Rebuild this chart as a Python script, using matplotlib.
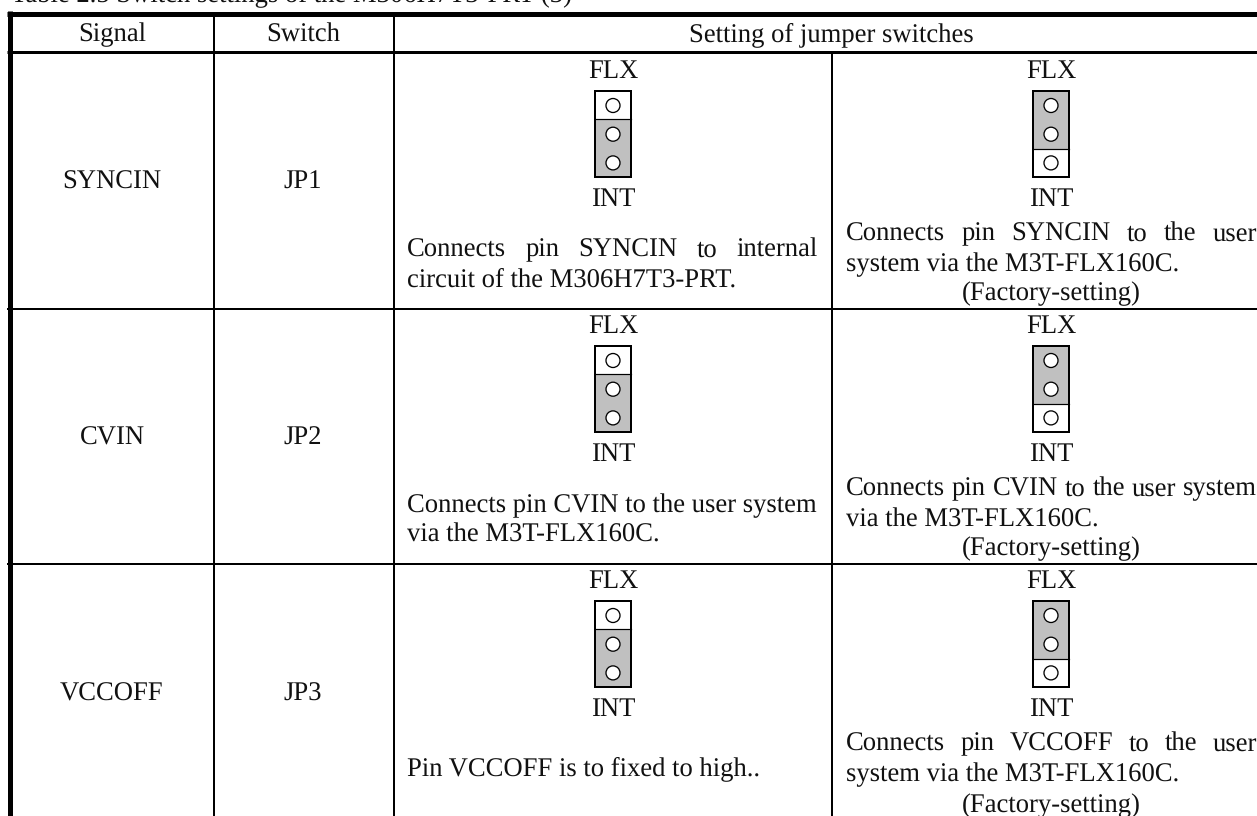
import matplotlib
matplotlib.use("Agg")
from matplotlib import pyplot as plt
from matplotlib.patches import Rectangle, Circle

plt.rcParams["font.family"] = ["Liberation Serif", "DejaVu Serif"]
plt.rcParams["text.hinting"] = "none"

title = "Table 2.5 Switch settings of the M306H7T3-PRT (3)"
headers = ["Signal", "Switch", "Setting of jumper switches"]
signals = ["SYNCIN", "CVIN", "VCCOFF"]
switches = ["JP1", "JP2", "JP3"]
left_notes = [
    ["Connects pin SYNCIN to internal", "circuit of the M306H7T3-PRT."],
    ["Connects pin CVIN to the user system", "via the M3T-FLX160C."],
    ["Pin VCCOFF is to fixed to high.."],
]
right_notes = [
    ["Connects pin SYNCIN to the user", "system via the M3T-FLX160C."],
    ["Connects pin CVIN to the user system", "via the M3T-FLX160C."],
    ["Connects pin VCCOFF to the user", "system via the M3T-FLX160C."],
]
factory = "(Factory-setting)"

W, H = 1257, 816
FS = 19.2
row_tops = [54, 309, 564]
left_y = [[247, 277], [503, 532], [766]]
mid_y = [179, 435, 691]
factory_off = [237, 237, 239]
GREY = "#c0c0c0"

fig = plt.figure(figsize=(W / 100, H / 100), dpi=100)
ax = fig.add_axes([0, 0, 1, 1])
ax.set_xlim(0, W)
ax.set_ylim(H, 0)
ax.axis("off")


def px(n):
    return n * 72 / 100


def txt(x, y, s, **kw):
    return ax.text(x, y, s, fontsize=FS, color="#111111", ha=kw.pop("ha", "center"),
                   va=kw.pop("va", "center_baseline"), **kw)


def justified(x0, x1, y, s):
    # word spacing stretched out to the cell width
    words = s.split(" ")
    r = fig.canvas.get_renderer()
    widths = []
    for w in words:
        t = txt(0, 0, w)
        widths.append(t.get_window_extent(r).width)
        t.remove()
    gap = (x1 - x0 - sum(widths)) / (len(words) - 1)
    x = x0
    for w, wd in zip(words, widths):
        txt(x, y, w, ha="left")
        x += wd + gap


def jumper(cx, top, shade_top):
    bw, bh = 36, 86
    x0 = cx - bw / 2
    sy = top if shade_top else top + 28
    ly = top + 58 if shade_top else top + 28
    ax.add_patch(Rectangle((x0, sy), bw, 58, fc=GREY, ec="none", zorder=2))
    ax.add_patch(Rectangle((x0, top), bw, bh, fc="none", ec="black", lw=px(2), zorder=3))
    ax.plot([x0, x0 + bw], [ly, ly], color="black", lw=px(1.2), zorder=3)
    for i in range(3):
        ax.add_patch(Circle((cx, top + 14.5 + 28.7 * i), 7, fc="white", ec="black", lw=px(1.3), zorder=4))


# table rules
for x in [213.5, 393.5]:
    ax.plot([x, x], [13, H], color="black", lw=px(2), solid_capstyle="butt")
ax.plot([831.5, 831.5], [52, H], color="black", lw=px(2), solid_capstyle="butt")
ax.plot([9.5, 9.5], [11, H], color="black", lw=px(5), solid_capstyle="butt")
ax.plot([7, W], [13.5, 13.5], color="black", lw=px(5), solid_capstyle="butt")
ax.plot([7, W], [51.5, 51.5], color="black", lw=px(3), solid_capstyle="butt")
for y in row_tops[1:]:
    ax.plot([7, W], [y, y], color="black", lw=px(2), solid_capstyle="butt")

txt(11, 1, title, ha="left", va="baseline")
txt(112, 32, headers[0])
txt(303, 32, headers[1])
txt(831, 32, headers[2])

for i in range(3):
    top = row_tops[i]
    txt(112, mid_y[i], signals[i])
    txt(303, mid_y[i], switches[i])
    for cx, shade_top in [(613, False), (1051, True)]:
        txt(cx, top + 15, "FLX")
        jumper(cx, top + 37, shade_top)
        txt(cx, top + 143, "INT")
    # left notes, only the first one is justified
    if i == 0:
        justified(407, 818, left_y[i][0], left_notes[i][0])
        txt(407, left_y[i][1], left_notes[i][1], ha="left")
    else:
        for y, s in zip(left_y[i], left_notes[i]):
            txt(407, y, s, ha="left")
    justified(846, 1257, top + 177, right_notes[i][0])
    txt(846, top + 208, right_notes[i][1], ha="left")
    txt(1051, top + factory_off[i], factory)

fig.savefig("out.png", dpi=100)
